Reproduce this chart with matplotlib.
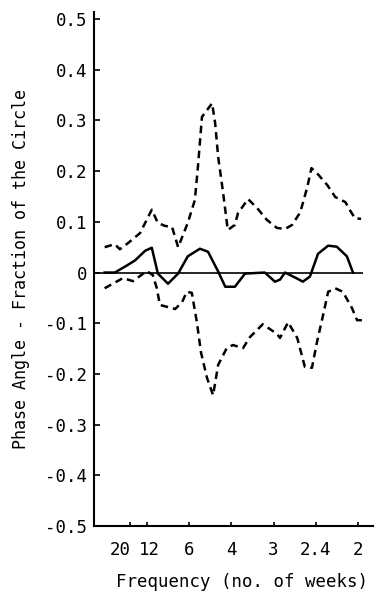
import matplotlib
matplotlib.use("Agg")
import matplotlib.pyplot as plt
import matplotlib.transforms as mtransforms

# ---- data (frequency in cycles/week, phase angle as fraction of circle) ----
upper_f = [0.0, 0.020, 0.030, 0.046, 0.070, 0.093, 0.105, 0.119, 0.133, 0.145,
           0.153, 0.164, 0.178, 0.184, 0.192, 0.212, 0.218, 0.224, 0.233, 0.243,
           0.257, 0.263, 0.283, 0.301, 0.320, 0.340, 0.356, 0.370, 0.386, 0.400,
           0.408, 0.419, 0.439, 0.455, 0.475, 0.484, 0.494, 0.506]
upper_v = [0.050, 0.056, 0.046, 0.058, 0.078, 0.124, 0.098, 0.092, 0.090, 0.050,
           0.070, 0.098, 0.143, 0.208, 0.307, 0.334, 0.295, 0.228, 0.163, 0.084,
           0.094, 0.117, 0.145, 0.127, 0.104, 0.088, 0.086, 0.094, 0.119, 0.169,
           0.206, 0.196, 0.173, 0.149, 0.139, 0.123, 0.107, 0.106]

lower_f = [0.0, 0.036, 0.056, 0.083, 0.095, 0.103, 0.109, 0.133, 0.139, 0.153,
           0.162, 0.172, 0.182, 0.190, 0.202, 0.214, 0.224, 0.241, 0.253, 0.273,
           0.287, 0.312, 0.340, 0.346, 0.362, 0.380, 0.395, 0.409, 0.419, 0.431,
           0.441, 0.455, 0.470, 0.488, 0.498, 0.508]
lower_v = [-0.031, -0.011, -0.017, 0.003, -0.005, -0.031, -0.064, -0.070, -0.072, -0.058,
           -0.038, -0.040, -0.098, -0.157, -0.208, -0.242, -0.182, -0.149, -0.143, -0.149,
           -0.127, -0.102, -0.121, -0.129, -0.098, -0.129, -0.186, -0.188, -0.137, -0.084,
           -0.038, -0.031, -0.038, -0.070, -0.094, -0.094]

phase_f = [0.0, 0.020, 0.044, 0.060, 0.080, 0.093, 0.105, 0.125, 0.145, 0.164,
           0.188, 0.204, 0.224, 0.238, 0.257, 0.277, 0.316, 0.336, 0.346, 0.356,
           0.380, 0.391, 0.405, 0.421, 0.441, 0.458, 0.478, 0.490]
phase_v = [0.0, 0.0, 0.014, 0.024, 0.043, 0.049, -0.002, -0.022, -0.002, 0.032,
           0.047, 0.041, 0.002, -0.028, -0.028, -0.002, 0.0, -0.018, -0.014, 0.0,
           -0.012, -0.018, -0.008, 0.037, 0.053, 0.051, 0.032, 0.0]

period_labels = ["20", "12", "6", "4", "3", "2.4", "2"]
periods = [20, 12, 6, 4, 3, 2.4, 2]
y_ticks = [0.5, 0.4, 0.3, 0.2, 0.1, 0.0, -0.1, -0.2, -0.3, -0.4, -0.5]
y_tick_labels = ["0.5", "0.4", "0.3", "0.2", "0.1", "0", "-0.1", "-0.2", "-0.3", "-0.4", "-0.5"]

plt.rcParams['font.family'] = ['DejaVu Sans Mono', 'DejaVu Sans']

fig = plt.figure(figsize=(3.83, 5.98), dpi=100)
ax = fig.add_axes([94/383, 72/598, 279/383, 514/598])

xmin, xmax = -0.021, 0.5295
ax.set_xlim(xmin, xmax)
ax.set_ylim(-0.5, 0.514)

ax.hlines(0, xmin, 0.51, color='black', lw=1.2)
ax.plot(upper_f, upper_v, color='black', lw=1.8, linestyle=(0, (3, 2)))
ax.plot(lower_f, lower_v, color='black', lw=1.8, linestyle=(0, (3, 2)))
ax.plot(phase_f, phase_v, color='black', lw=1.8, solid_joinstyle='round')

for s in ['top', 'right']:
    ax.spines[s].set_visible(False)
for s in ['left', 'bottom']:
    ax.spines[s].set_linewidth(1.5)

ax.set_yticks(y_ticks)
ax.set_yticklabels(y_tick_labels, fontsize=12.5)
ax.set_xticks([1.0 / p for p in periods])
ax.set_xticklabels(period_labels, fontsize=12.5)
ax.tick_params(axis='y', direction='in', length=4, width=1.2, pad=5)
ax.tick_params(axis='x', direction='in', length=3, width=1.2, pad=11)

# the "20" and "12" labels sit close together, as "2012" in the original
xl = ax.get_xticklabels()
xl[0].set_transform(xl[0].get_transform() +
                    mtransforms.ScaledTranslation(-10/100, 0, fig.dpi_scale_trans))
xl[1].set_transform(xl[1].get_transform() +
                    mtransforms.ScaledTranslation(3/100, 0, fig.dpi_scale_trans))

ax.set_xlabel("Frequency (no. of weeks)", fontsize=12.5)
ax.xaxis.set_label_coords(0.53, -0.092)
ax.set_ylabel("Phase Angle - Fraction of the Circle", fontsize=12)
ax.yaxis.set_label_coords(-0.23, 0.5)

fig.savefig("out.png", dpi=100)
